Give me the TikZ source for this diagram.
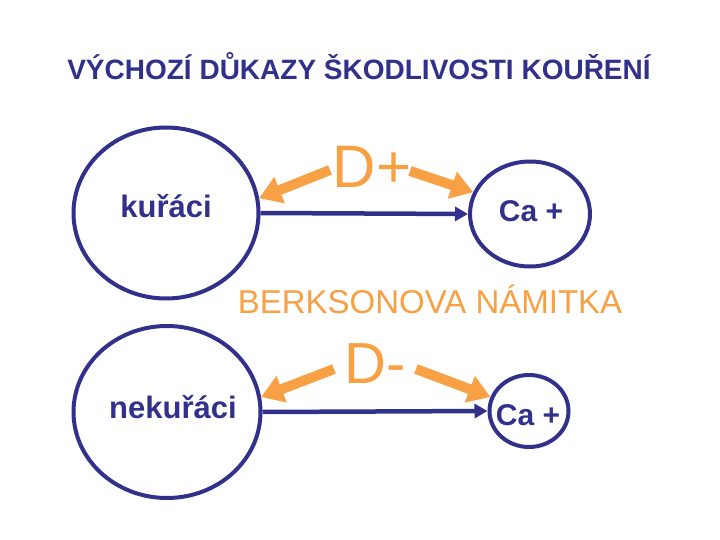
\documentclass[tikz,border=0pt]{standalone}
\usepackage{fontspec}
\setmainfont{Liberation Sans}
\usetikzlibrary{shapes.geometric,arrows.meta}
\definecolor{navy}{RGB}{49,49,140}
\definecolor{orng}{RGB}{247,160,68}
\tikzset{
  oval/.style={draw=navy,line width=4pt,ellipse,inner sep=0pt},
  navytxt/.style={text=navy,font=\bfseries,inner sep=0pt,anchor=base},
  orngtxt/.style={text=orng,inner sep=0pt,anchor=base},
  link/.style={draw=navy,line width=4.5pt,-{Triangle[length=13pt,width=14pt]}},
  fat/.style={draw=orng,line width=10pt,-{Triangle[length=22pt,width=27pt]}}
}
\begin{document}
\begin{tikzpicture}[x=1pt,y=-1pt]
\useasboundingbox[fill=white] (0,0) rectangle (720,540);
% title
\node[navytxt,font=\bfseries\fontsize{28}{28}\selectfont] (title) at (359,80) {VÝCHOZÍ DŮKAZY ŠKODLIVOSTI KOUŘENÍ};
% ellipses
\node[oval,minimum width=185pt,minimum height=171pt] (k) at (166,213) {};
\node[oval,minimum width=187pt,minimum height=172pt] (n) at (167,412) {};
\node[oval,minimum width=120pt,minimum height=105pt] (c1) at (530,214) {};
\node[oval,minimum width=79pt,minimum height=72pt] (c2) at (529,411) {};
% labels
\node[navytxt,font=\bfseries\fontsize{31}{31}\selectfont] (kt) at (166,218) {kuřáci};
\node[navytxt,font=\bfseries\fontsize{31}{31}\selectfont] (nt) at (173,418) {nekuřáci};
\node[navytxt,font=\bfseries\fontsize{30}{30}\selectfont] (c1t) at (531,222) {Ca +};
\node[navytxt,font=\bfseries\fontsize{30}{30}\selectfont] (c2t) at (528,425) {Ca +};
\node[orngtxt,font=\fontsize{60}{60}\selectfont] (dp) at (372,188) {D+};
\node[orngtxt,font=\fontsize{58}{58}\selectfont] (dm) at (375,383) {D-};
\node[orngtxt,font=\fontsize{33}{33}\selectfont] (bn) at (430,313) {BERKSONOVA NÁMITKA};
% connectors
\draw[link] (k.east) -- (c1.west);
\draw[link] (n.east) -- (c2.west);
\coordinate (t1) at (330,170);
\coordinate (t2) at (410,171);
\coordinate (t3) at (334,369);
\coordinate (t4) at (416,369);
\draw[fat] (t1) -- (k.9);
\draw[fat] (t2) -- (c1.159);
\draw[fat] (t3) -- (n.9);
\draw[fat] (t4) -- (c2.160);
\end{tikzpicture}
\end{document}
